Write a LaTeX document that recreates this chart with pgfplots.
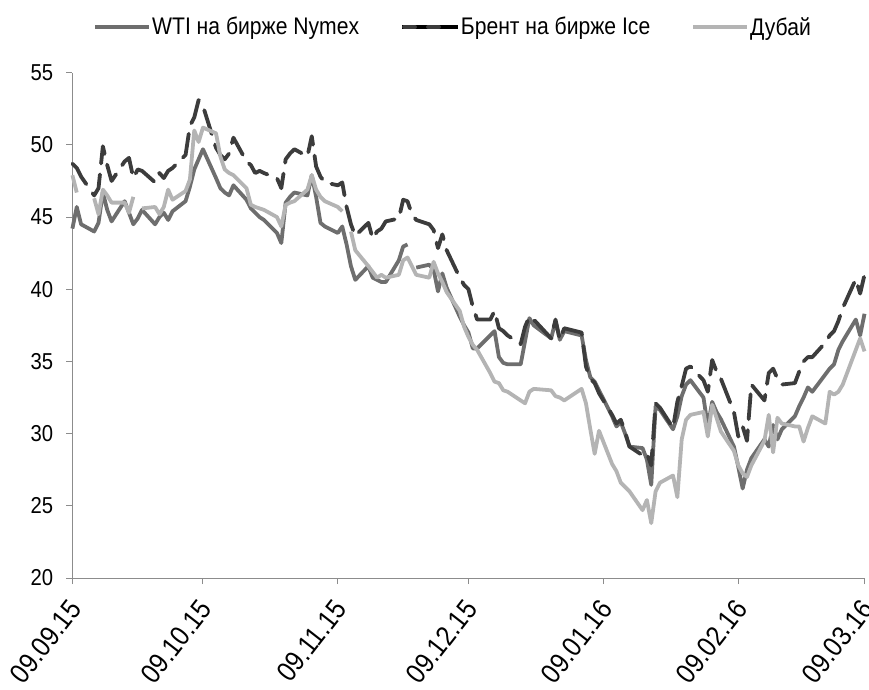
\documentclass[border=0pt]{standalone}
\usepackage{fontspec}
\setmainfont{Liberation Sans}[FakeStretch=0.88]
\usepackage{pgfplots}
\usepackage{pgfplotstable}
\pgfplotsset{compat=1.18}
\definecolor{wti}{HTML}{6E6E6E}
\definecolor{brent}{HTML}{3C3C3C}
\definecolor{dubai}{HTML}{B4B4B4}
\definecolor{axisgray}{HTML}{8C8C8C}
\newcommand{\chartfont}{\fontsize{23bp}{27bp}\selectfont}
\newcommand{\legfont}{\fontsize{24bp}{28bp}\selectfont}
\newcommand{\xfont}{\fontsize{28bp}{32bp}\selectfont}
\pgfplotstableread{
d wti brent dubai
0 44.2 48.7 47.9
1 45.7 48.4 46.7
2 44.5 47.8 nan
5 44.0 46.5 46.3
6 44.6 47.0 45.2
7 46.7 49.9 46.9
8 45.5 48.6 46.5
9 44.7 47.5 46.0
12 46.1 48.85 46.0
13 45.3 49.1 45.3
14 44.5 47.7 46.4
15 44.9 48.3 nan
16 45.5 48.2 45.6
19 44.5 47.4 45.7
20 45.0 48.05 45.2
21 45.3 47.7 45.7
22 44.8 48.2 46.9
23 45.4 48.4 46.2
26 46.1 49.3 46.8
27 47.1 51.3 47.6
28 48.3 51.9 51.0
29 49.0 53.1 50.2
30 49.7 52.7 51.2
33 47.7 49.8 50.8
34 47.0 49.3 49.2
35 46.7 49.0 48.3
36 46.5 49.4 48.05
37 47.2 50.5 47.9
40 46.2 48.85 47.0
41 45.6 48.6 45.85
42 45.3 48.05 45.7
43 45.0 48.2 45.6
44 44.8 48.05 45.5
47 43.9 47.7 45.0
48 43.2 47.0 44.35
49 46.0 49.0 45.85
50 46.4 49.4 46.0
51 46.7 49.7 46.1
54 46.5 49.2 46.9
55 47.9 50.6 47.9
56 46.4 48.5 46.9
57 44.6 47.8 46.4
58 44.35 47.4 46.1
61 43.9 47.2 45.7
62 44.35 47.4 45.4
63 43.1 45.7 nan
64 41.6 44.5 44.0
65 40.65 43.7 42.7
68 41.6 44.6 41.6
69 40.8 43.5 41.2
70 40.65 44.0 40.8
71 40.5 44.2 41.0
72 40.5 44.7 40.8
75 42.0 44.9 41.0
76 42.96 46.2 42.0
77 43.1 46.1 42.2
78 nan 45.2 41.6
79 41.5 44.8 41.0
82 41.7 44.5 40.8
83 41.35 44.1 41.9
84 39.85 42.85 41.1
85 41.1 43.8 40.5
86 40.1 42.7 39.8
89 38.1 40.8 38.5
90 37.5 40.3 37.4
91 37.0 40.0 36.7
92 35.9 38.8 36.15
93 35.9 37.9 35.8
96 36.8 37.9 34.2
97 37.1 38.5 33.6
98 35.3 37.3 33.5
99 34.9 37.1 33.0
100 34.8 36.8 32.9
103 34.8 36.2 32.3
104 36.4 37.4 32.1
105 38.0 38.1 32.9
106 37.5 37.9 33.1
110 36.6 36.6 33.0
111 37.8 37.9 32.6
112 36.5 36.5 32.5
113 37.1 37.3 32.3
117 36.8 37.0 33.1
118 35.1 34.65 32.1
119 33.9 33.8 30.3
120 33.6 33.5 28.6
121 33.0 32.8 30.2
124 31.2 31.3 27.9
125 30.5 30.7 27.4
126 30.8 30.96 26.6
127 30.0 30.1 26.3
128 29.1 29.1 26.0
131 29.0 28.5 24.7
132 28.2 28.65 25.4
133 26.45 27.8 23.8
134 31.9 32.1 26.0
135 31.65 31.8 26.6
138 30.3 30.4 27.1
139 31.2 32.2 25.6
140 32.6 33.3 29.6
141 33.4 34.5 30.96
142 33.7 34.65 31.3
145 32.5 33.7 31.5
146 30.5 32.9 29.8
147 32.2 35.1 32.0
148 31.5 34.3 31.1
149 31.0 33.8 30.15
152 29.1 31.5 28.8
153 27.7 29.8 27.8
154 26.2 30.5 27.25
155 27.5 29.5 27.0
156 28.3 33.4 27.8
159 29.6 32.3 29.5
160 29.1 34.2 31.3
161 30.6 34.5 28.7
162 29.6 33.8 31.1
163 30.3 33.4 30.7
166 31.2 33.5 30.5
167 31.9 34.3 30.5
168 32.5 35.0 29.45
169 33.2 35.3 30.4
170 32.9 35.3 31.2
173 34.1 36.3 30.7
174 34.5 36.8 32.9
175 34.8 37.1 32.7
176 35.8 37.8 32.9
177 36.4 38.7 33.4
180 37.9 40.7 35.8
181 36.8 39.7 36.6
182 38.3 41.0 35.7
}\oil
\begin{document}
\begin{tikzpicture}
\begin{axis}[
  at={(0,0)}, anchor=south west,
  scale only axis,
  width=792.1bp, height=505.3bp,
  xmin=0, xmax=182, ymin=20, ymax=55,
  xtick={0,30,61,91,122,153,182},
  xticklabels={09.09.15,09.10.15,09.11.15,09.12.15,09.01.16,09.02.16,09.03.16},
  ytick={20,25,30,35,40,45,50,55},
  axis lines=left,
  axis line style={-, draw=axisgray, line width=1bp},
  tick align=outside,
  major tick length=6bp,
  tick style={draw=axisgray, line width=1bp},
  /pgf/number format/assume math mode=true,
  yticklabel style={font=\chartfont, inner sep=0pt, xshift=-13bp},
  xticklabel style={font=\xfont, rotate=52, anchor=north east, inner sep=0pt, xshift=-13.6bp, yshift=-4.2bp},
  unbounded coords=jump,
  clip=false,
  legend columns=3,
  legend style={draw=none, fill=none, font=\legfont,
    at={(axis description cs:0.48,1)}, anchor=south, yshift=33bp,
    nodes={inner sep=1bp},
    /tikz/every even column/.append style={column sep=40bp}},
  every axis plot/.append style={line width=3.8bp, line join=round},
]
\addplot[wti, no markers, forget plot] table[x=d, y=wti] {\oil};
\addplot[brent, no markers, line cap=round, dash pattern=on 25bp off 11bp, forget plot]
  table[x=d, y=brent] {\oil};
\addplot[dubai, no markers, forget plot] table[x=d, y=dubai] {\oil};
\addlegendimage{legend image code/.code={\draw[wti, line width=3.8bp] (0bp,0bp) -- (54bp,0bp);}}
\addlegendentry{WTI на бирже Nymex}
\addlegendimage{legend image code/.code={\path (0bp,0bp) -- (56bp,0bp);
    \draw[brent, line width=3.8bp, line cap=round, solid] (2bp,0bp) -- (13bp,0bp);
    \draw[brent, line width=3.8bp, line cap=round, solid] (26bp,0bp) -- (37bp,0bp);}}
\addlegendentry{Брент на бирже Ice}
\addlegendimage{legend image code/.code={\draw[dubai, line width=3.8bp] (0bp,0bp) -- (54bp,0bp);}}
\addlegendentry{Дубай}
\end{axis}
\pgfresetboundingbox
\useasboundingbox (-72.4bp,-112bp) rectangle (796.6bp,578bp);
\end{tikzpicture}
\end{document}
